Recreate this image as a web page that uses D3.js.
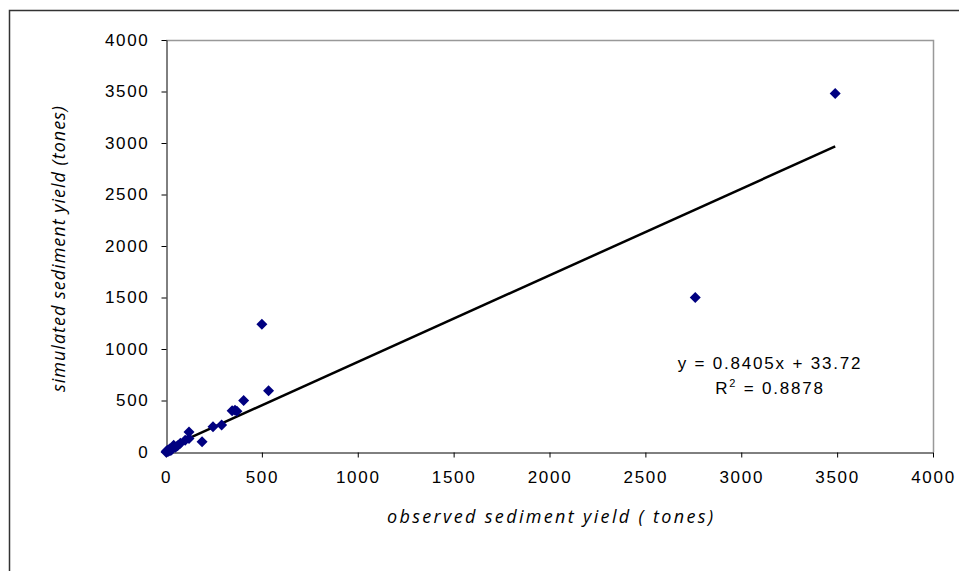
<!DOCTYPE html>
<html>
<head>
<meta charset="utf-8">
<script src="https://cdn.jsdelivr.net/npm/d3@7.9.0/dist/d3.min.js"></script>
<style>
  body { margin: 0; background: #fff; }
  svg { display: block; }
</style>
</head>
<body>
<div id="chart"></div>
<script>
// observed vs simulated sediment yield (tones)
const observed = [0, 3, 5, 8, 10, 12, 15, 20, 25, 30, 40, 50, 60, 75, 100, 120, 120, 188, 245, 290, 345, 360, 370, 405, 500, 535, 2760, 3490];
const simulated = [0, 10, 3, 15, 5, 20, 10, 30, 15, 25, 65, 45, 60, 85, 115, 130, 195, 100, 245, 262, 400, 405, 395, 500, 1240, 595, 1500, 3480];
const xTicks = [0, 500, 1000, 1500, 2000, 2500, 3000, 3500, 4000];
const yTicks = [0, 500, 1000, 1500, 2000, 2500, 3000, 3500, 4000];
const slope = 0.8405;
const intercept = 33.72;
const r2 = 0.8878;

const points = observed.map((x, i) => ({ x, y: simulated[i] }));

const width = 959;
const height = 571;
const plot = { left: 166, top: 40, right: 933, bottom: 452 };
const labelFont = '"Liberation Sans", Arial, sans-serif';

const svg = d3.select('#chart')
  .append('svg')
  .attr('width', width)
  .attr('height', height);

// outer chart frame, runs off the right and bottom edges
svg.append('rect')
  .attr('x', 9.5).attr('y', 10.5)
  .attr('width', 980).attr('height', 600)
  .attr('fill', 'none')
  .attr('stroke', '#333')
  .attr('stroke-width', 1.5);

const xScale = d3.scaleLinear().domain([0, 4000]).range([plot.left, plot.right]);
const yScale = d3.scaleLinear().domain([0, 4000]).range([plot.bottom, plot.top]);

// gray top/right border of plot area
svg.append('path')
  .attr('d', `M${plot.left},${plot.top + 0.5}H${plot.right + 0.5}V${plot.bottom}`)
  .attr('fill', 'none')
  .attr('stroke', '#999')
  .attr('stroke-width', 1.5);

svg.append('g')
  .attr('transform', `translate(0,${plot.bottom + 0.5})`)
  .call(d3.axisBottom(xScale).tickValues(xTicks).tickFormat(d3.format('d'))
    .tickSize(5).tickSizeOuter(0).tickPadding(13));

svg.append('g')
  .attr('transform', `translate(${plot.left + 0.5},0)`)
  .call(d3.axisLeft(yScale).tickValues(yTicks).tickFormat(d3.format('d'))
    .tickSize(5).tickSizeOuter(0).tickPadding(12));

svg.selectAll('.tick text')
  .attr('font-family', labelFont)
  .attr('font-size', 17)
  .attr('letter-spacing', 1.7)
  .attr('fill', '#000');
svg.selectAll('.domain, .tick line').attr('stroke', '#000');

// axis titles
svg.append('text')
  .attr('x', 550).attr('y', 523)
  .attr('text-anchor', 'middle')
  .attr('font-family', '"Open Sans", sans-serif')
  .attr('font-style', 'italic')
  .attr('font-size', 18)
  .attr('textLength', 326)
  .text('observed sediment yield ( tones)');

svg.append('text')
  .attr('transform', 'translate(65,249) rotate(-90)')
  .attr('text-anchor', 'middle')
  .attr('font-family', '"Open Sans", sans-serif')
  .attr('font-style', 'italic')
  .attr('font-size', 18)
  .attr('textLength', 286)
  .text('simulated sediment yield (tones)');

// trend line across the data range
const [xMin, xMax] = d3.extent(observed);
svg.append('line')
  .attr('x1', xScale(xMin)).attr('y1', yScale(slope * xMin + intercept))
  .attr('x2', xScale(xMax)).attr('y2', yScale(slope * xMax + intercept))
  .attr('stroke', '#000')
  .attr('stroke-width', 2.5);

// data markers
svg.append('g')
  .selectAll('path')
  .data(points)
  .join('path')
  .attr('transform', d => `translate(${xScale(d.x)},${yScale(d.y)})`)
  .attr('d', 'M0,-5.5L5.5,0L0,5.5L-5.5,0Z')
  .attr('fill', '#000080');

// equation label
const eq = svg.append('text')
  .attr('text-anchor', 'middle')
  .attr('font-family', labelFont)
  .attr('font-size', 17)
  .attr('letter-spacing', 1.8)
  .attr('fill', '#000');
eq.append('tspan').attr('x', 770).attr('y', 369)
  .text(`y = ${slope}x + ${intercept}`);
const r2Line = eq.append('tspan').attr('x', 770).attr('y', 394);
r2Line.append('tspan').text('R');
r2Line.append('tspan').attr('font-size', 11).attr('dy', -7).text('2');
r2Line.append('tspan').attr('dy', 7).text(` = ${r2}`);
</script>
</body>
</html>
